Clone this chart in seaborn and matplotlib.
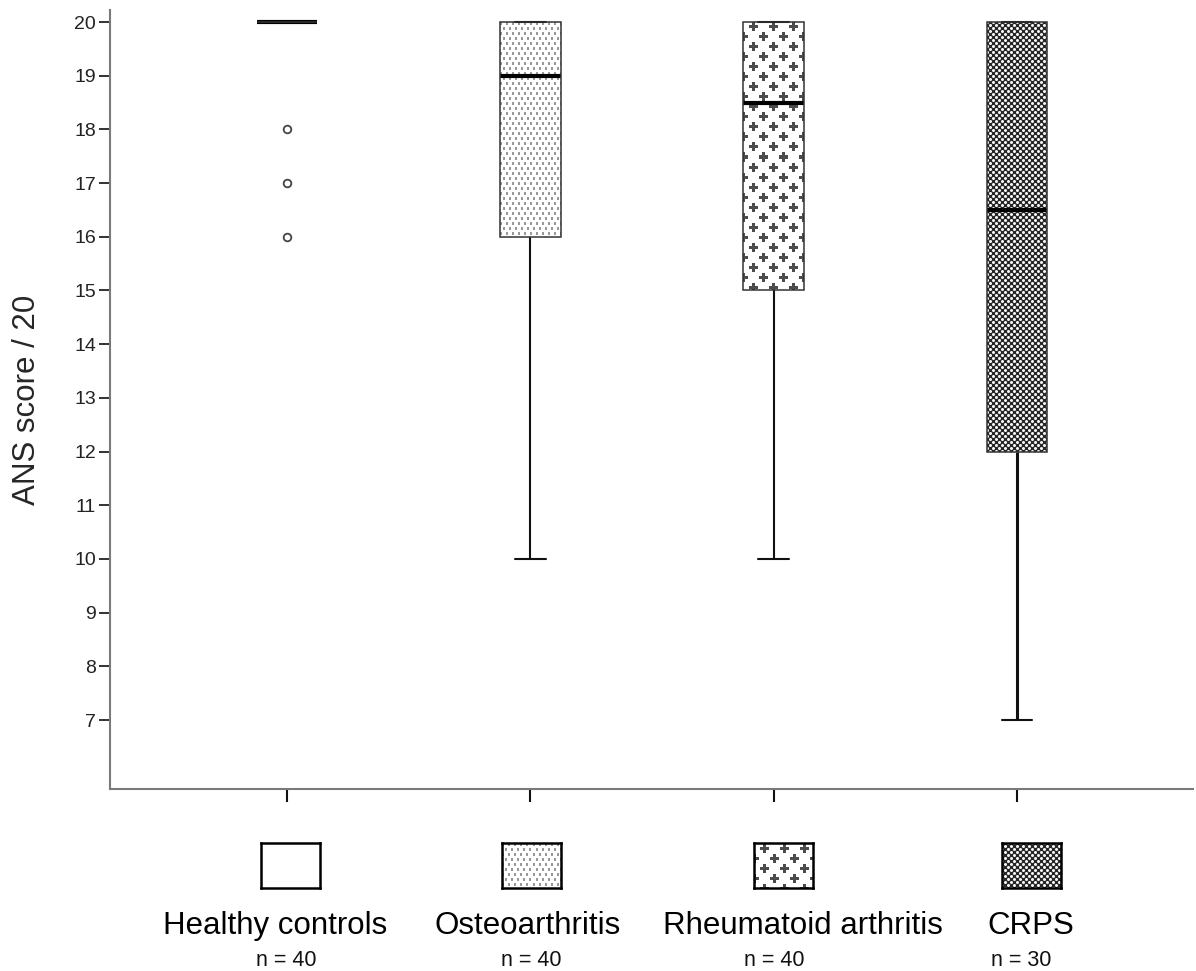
import numpy as np
import pandas as pd
import matplotlib
matplotlib.use("Agg")
import matplotlib.pyplot as plt
import seaborn as sns

# ANS scores per patient group (values chosen to reproduce each group's box summary)
groups = ["Healthy controls", "Osteoarthritis", "Rheumatoid arthritis", "CRPS"]
group_n = [40, 40, 40, 30]
healthy_scores = [16, 17, 18, 20, 20, 20, 20, 20, 20, 20, 20, 20, 20]
oa_scores = [10, 16, 19, 20, 20]
ra_scores = [10, 15, 18.5, 20, 20]
crps_scores = [7, 12, 16.5, 20, 20]
y_ticks = list(range(7, 21))
fill_kinds = ["plain", "dots", "crosses", "lattice"]

W, H = 1196, 971

sns.set_style("ticks")
plt.rcParams["font.family"] = ["Liberation Sans", "DejaVu Sans"]

df = pd.DataFrame({
    "group": (["Healthy controls"] * len(healthy_scores) + ["Osteoarthritis"] * len(oa_scores)
              + ["Rheumatoid arthritis"] * len(ra_scores) + ["CRPS"] * len(crps_scores)),
    "score": healthy_scores + oa_scores + ra_scores + crps_scores,
})


def texture(kind, h, w):
    """Grey-level fill pattern of h x w pixels."""
    h, w = max(int(round(h)), 1), max(int(round(w)), 1)
    yy, xx = np.mgrid[0:h, 0:w]
    img = np.ones((h, w))
    if kind == "dots":
        # small grey flecks on a staggered (brick) grid
        row = yy // 5
        u = yy % 5
        v = (xx + 3 * (row % 2)) % 6
        img[(u < 3) & (v < 2)] = 0.6
    elif kind == "crosses":
        # bold plus signs on a staggered grid
        row = yy // 10
        u = yy % 10
        v = (xx + 10 * (row % 2)) % 20
        du, dv = np.abs(u - 5), np.abs(v - 10)
        img[((du <= 1) & (dv <= 4)) | ((dv <= 1) & (du <= 4))] = 0.3
    elif kind == "lattice":
        # white round holes in a dark ground
        img[:] = 0.15
        for oy, ox in [(0, 0), (3, 3)]:
            dy = ((yy - oy + 3) % 6) - 3
            dx = ((xx - ox + 3) % 6) - 3
            d = np.hypot(dy, dx)
            ring = (d > 1.1) & (d <= 1.6)
            img[ring] = np.maximum(img[ring], 0.6)
            img[d <= 1.1] = 0.95
    return img


fig = plt.figure(figsize=(W / 100, H / 100), dpi=100)
ax = fig.add_axes([110 / W, (H - 789) / H, (1193 - 110) / W, (789 - 10) / H])

sns.boxplot(
    data=df, x="group", y="score", order=groups, ax=ax,
    width=0.25, color="white", linecolor="#333333", linewidth=1.1,
    whis=1.5,
    medianprops=dict(color="black", linewidth=3.0),
    whiskerprops=dict(color="#111111", linewidth=1.5),
    capprops=dict(color="#111111", linewidth=1.5),
    flierprops=dict(marker="o", markersize=5.5, markerfacecolor="white",
                    markeredgecolor="#444444", markeredgewidth=1.3),
)

# The CRPS whisker is drawn a little heavier
for line in ax.lines:
    xd = np.asarray(line.get_xdata(), dtype=float)
    if xd.size == 2 and np.allclose(xd, len(groups) - 1):
        line.set_linewidth(2.2)

ax.set_xlim(-0.7275, 3.7234)
ax.set_ylim(5.715, 20.2235)
ax.set_yticks(y_ticks)
ax.set_yticklabels([str(t) for t in y_ticks])
ax.set_xticks(range(len(groups)))
ax.set_xticklabels([])
ax.set_xlabel("")
ax.set_ylabel("ANS score / 20", fontsize=22.5)
ax.yaxis.set_label_coords(-0.063, 0.5)

sns.despine(ax=ax)
for side in ("left", "bottom"):
    ax.spines[side].set_color("#7a7a7a")
    ax.spines[side].set_linewidth(1.5)
ax.tick_params(axis="y", length=8, width=1.3, color="#222222", labelsize=14, pad=2,
               labelcolor="#222222")
ax.tick_params(axis="x", length=9, width=1.5, color="#111111")

# Patterned fills for the boxes, clipped to each box outline
fig.canvas.draw()
boxes = [p for p in ax.patches]
for patch, kind in zip(boxes, fill_kinds):
    patch.set_facecolor("none")
    patch.set_zorder(2.5)
    if kind == "plain":
        continue
    verts = patch.get_path().vertices
    x0, x1 = verts[:, 0].min(), verts[:, 0].max()
    y0, y1 = verts[:, 1].min(), verts[:, 1].max()
    p0 = ax.transData.transform((x0, y0))
    p1 = ax.transData.transform((x1, y1))
    img = texture(kind, abs(p1[1] - p0[1]), abs(p1[0] - p0[0]))
    im = ax.imshow(img, cmap="gray", vmin=0, vmax=1, extent=[x0, x1, y0, y1],
                   origin="upper", interpolation="nearest", aspect="auto", zorder=1.9)
    im.set_clip_path(patch)
ax.set_xlim(-0.7275, 3.7234)
ax.set_ylim(5.715, 20.2235)

# Key swatches with group names and sample sizes underneath the axis
swatch_cx = [290, 531, 783, 1031]
label_cx = [275, 528, 803, 1031]
n_cx = [286, 531, 774, 1021]
sw_w, sw_h, sw_top = 59, 45, 843
for kind, sx, name, lx, n, nx in zip(fill_kinds, swatch_cx, groups, label_cx, group_n, n_cx):
    sax = fig.add_axes([(sx - sw_w / 2) / W, (H - sw_top - sw_h) / H, sw_w / W, sw_h / H])
    sax.imshow(texture(kind, sw_h, sw_w), cmap="gray", vmin=0, vmax=1,
               interpolation="nearest", aspect="auto")
    sax.set_xticks([])
    sax.set_yticks([])
    for s in sax.spines.values():
        s.set_visible(True)
        s.set_color("black")
        s.set_linewidth(1.8)
    fig.text(lx / W, 1 - 934 / H, name, ha="center", va="baseline", fontsize=22.5,
             color="black")
    fig.text(nx / W, 1 - 966 / H, f"n = {n}", ha="center", va="baseline", fontsize=15.5,
             color="#111111")

fig.savefig("out.png", dpi=100, facecolor="white")
